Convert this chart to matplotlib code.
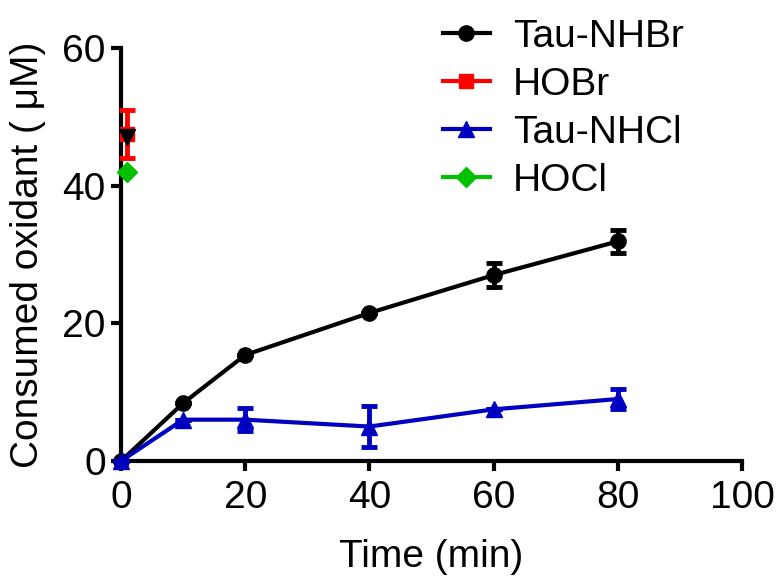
import matplotlib.pyplot as plt

plt.rcParams['font.family'] = ['Liberation Sans', 'DejaVu Sans']

time = [0, 10, 20, 40, 60, 80]
tau_nhbr = [0, 8.4, 15.4, 21.5, 27.0, 31.9]
tau_nhbr_err = [0, 0, 0, 0, 1.7, 1.7]
tau_nhcl = [0, 6.0, 6.0, 5.0, 7.5, 9.0]
tau_nhcl_err = [0, 0, 1.7, 3.0, 0, 1.5]

hobr_x = [1]
hobr = [47.5]
hobr_err = [3.5]
hocl_x = [1]
hocl = [42.0]
extra_x = [1]
extra = [47.1]

fig = plt.figure(figsize=(7.81, 5.87), dpi=100)
ax = fig.add_axes([0.155, 0.2147, 0.795, 0.7036])

lw = 3
eb = dict(capsize=6, capthick=3.5, elinewidth=3.5, clip_on=False)
h1 = ax.errorbar(time, tau_nhbr, yerr=tau_nhbr_err, color='black', marker='o', ms=11,
                 lw=lw, zorder=3, **eb)
h2 = ax.errorbar(hobr_x, hobr, yerr=hobr_err, color='#FF0000', marker='s', ms=10,
                 lw=lw, zorder=3, **eb)
h3 = ax.errorbar(time, tau_nhcl, yerr=tau_nhcl_err, color='#0000C0', marker='^', ms=11,
                 lw=lw, zorder=4, **eb)
h4, = ax.plot(hocl_x, hocl, color='#00C000', marker='D', ms=10, lw=lw,
              clip_on=False, zorder=4)
ax.plot(extra_x, extra, color='black', marker='v', ms=11, ls='none', clip_on=False, zorder=5)

ax.set_xlim(0, 100)
ax.set_ylim(0, 60)
ax.set_xticks([0, 20, 40, 60, 80, 100])
ax.set_yticks([0, 20, 40, 60])
for s in ['top', 'right']:
    ax.spines[s].set_visible(False)
for s in ['left', 'bottom']:
    ax.spines[s].set_linewidth(3)
ax.tick_params(width=3, length=7, labelsize=28)
ax.tick_params(axis='x', pad=7)
ax.tick_params(axis='y', pad=4)
ax.set_xlabel('Time (min)', fontsize=28, labelpad=16)
ax.set_ylabel('Consumed oxidant ( μM)', fontsize=28, labelpad=12)

ax.legend([h1[0], h2[0], h3[0], h4], ['Tau-NHBr', 'HOBr', 'Tau-NHCl', 'HOCl'],
          loc='upper left', bbox_to_anchor=(443 / 781, 0.968), bbox_transform=fig.transFigure,
          frameon=False, fontsize=28, borderpad=0, borderaxespad=0,
          handlelength=1.2, handletextpad=0.6, labelspacing=0.31)

fig.savefig('out.png', dpi=100)
